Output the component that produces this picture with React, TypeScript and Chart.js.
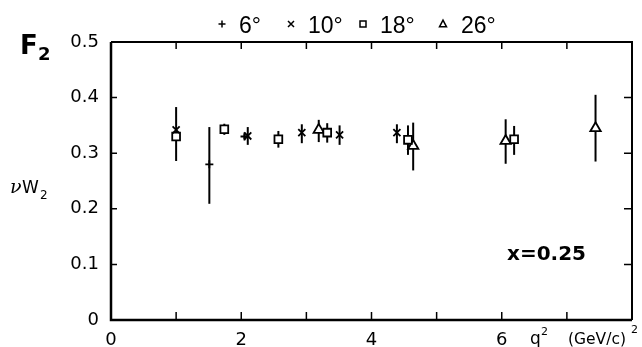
import React, { useEffect, useRef } from "react";
import { Chart, registerables } from "chart.js";

Chart.register(...registerables);

// 6 degrees (+)
const q2_6 = [1.51, 2.05];
const val_6 = [0.28, 0.33];
const lo_6 = [0.209, 0.325];
const hi_6 = [0.347, 0.335];
// 10 degrees (x)
const q2_10 = [1.0, 2.1, 2.93, 3.51, 4.39];
const val_10 = [0.342, 0.331, 0.337, 0.333, 0.337];
const lo_10 = [0.34, 0.315, 0.318, 0.315, 0.318];
const hi_10 = [0.345, 0.347, 0.352, 0.35, 0.352];
// 18 degrees (square)
const q2_18 = [1.0, 1.74, 2.57, 3.32, 4.56, 6.19];
const val_18 = [0.33, 0.343, 0.325, 0.337, 0.324, 0.325];
const lo_18 = [0.286, 0.333, 0.31, 0.319, 0.297, 0.297];
const hi_18 = [0.383, 0.353, 0.34, 0.354, 0.35, 0.349];
// 26 degrees (triangle)
const q2_26 = [3.19, 4.64, 6.06, 7.44];
const val_26 = [0.342, 0.313, 0.322, 0.345];
const lo_26 = [0.32, 0.269, 0.281, 0.285];
const hi_26 = [0.36, 0.355, 0.361, 0.405];

const legendLabels = ["6°", "10°", "18°", "26°"];
const xTickLabels = ["0", "", "2", "", "4", "", "6", "", ""];
const yTickLabels = ["0", "0.1", "0.2", "0.3", "0.4", "0.5"];
const annotation = "x=0.25";

const FONT = "'DejaVu Sans', sans-serif";
const LFONT = "'Liberation Sans', sans-serif";

function mk(xs: number[], ys: number[], lo: number[], hi: number[]) {
  return xs.map((x, i) => ({ x, y: ys[i], lo: lo[i], hi: hi[i] }));
}

function drawSymbol(ctx: CanvasRenderingContext2D, style: string, r: number, x: number, y: number) {
  ctx.beginPath();
  if (style === "cross") {
    ctx.moveTo(x - r, y); ctx.lineTo(x + r, y);
    ctx.moveTo(x, y - r); ctx.lineTo(x, y + r);
    ctx.stroke();
  } else if (style === "crossRot") {
    ctx.moveTo(x - r, y - r); ctx.lineTo(x + r, y + r);
    ctx.moveTo(x - r, y + r); ctx.lineTo(x + r, y - r);
    ctx.stroke();
  } else if (style === "rect") {
    ctx.rect(x - r, y - r, 2 * r, 2 * r);
    ctx.fill(); ctx.stroke();
  } else {
    ctx.moveTo(x, y - r * 1.1);
    ctx.lineTo(x + r, y + r * 0.8);
    ctx.lineTo(x - r, y + r * 0.8);
    ctx.closePath();
    ctx.fill(); ctx.stroke();
  }
}

const errorBarPlugin = {
  id: "errbars",
  beforeDatasetsDraw(chart: any) {
    const { ctx, scales } = chart;
    const xs = scales.x, ys = scales.y;
    ctx.save();
    ctx.strokeStyle = "#000";
    ctx.lineWidth = 2;
    chart.data.datasets.forEach((ds: any) => {
      ds.data.forEach((p: any) => {
        const px = xs.getPixelForValue(p.x);
        ctx.beginPath();
        ctx.moveTo(px, ys.getPixelForValue(p.lo));
        ctx.lineTo(px, ys.getPixelForValue(p.hi));
        ctx.stroke();
      });
    });
    ctx.restore();
  },
};

const framePlugin = {
  id: "frame",
  afterDraw(chart: any) {
    const { ctx, chartArea: a, scales } = chart;
    const xs = scales.x, ys = scales.y;
    ctx.save();
    ctx.strokeStyle = "#000";
    ctx.lineWidth = 2.5;
    ctx.beginPath();
    ctx.moveTo(a.left, a.top);
    ctx.lineTo(a.left, a.bottom);
    ctx.lineTo(a.right, a.bottom);
    ctx.stroke();
    ctx.lineWidth = 2;
    ctx.beginPath();
    ctx.moveTo(a.left, a.top);
    ctx.lineTo(a.right, a.top);
    ctx.lineTo(a.right, a.bottom);
    ctx.stroke();
    ctx.lineWidth = 1.5;
    for (let v = 1; v <= 7; v++) {
      const px = xs.getPixelForValue(v);
      ctx.beginPath();
      ctx.moveTo(px, a.bottom);
      ctx.lineTo(px, a.bottom - 8);
      ctx.moveTo(px, a.top);
      ctx.lineTo(px, a.top + 7);
      ctx.stroke();
    }
    for (let i = 1; i <= 4; i++) {
      const py = ys.getPixelForValue(i / 10);
      ctx.beginPath();
      ctx.moveTo(a.left, py);
      ctx.lineTo(a.left + 6, py);
      ctx.moveTo(a.right, py);
      ctx.lineTo(a.right - 8, py);
      ctx.stroke();
    }
    ctx.fillStyle = "#000";
    ctx.textBaseline = "alphabetic";
    ctx.textAlign = "left";
    ctx.font = `bold 26px ${FONT}`;
    ctx.fillText("F", 20, 54);
    ctx.font = `bold 18px ${FONT}`;
    ctx.fillText("2", 38, 60);
    ctx.font = `italic 19px 'DejaVu Serif', serif`;
    ctx.fillText("ν", 10, 193);
    ctx.font = `17px ${FONT}`;
    ctx.fillText("W", 22, 193);
    ctx.font = `12px ${FONT}`;
    ctx.fillText("2", 40, 199);
    ctx.font = `17px ${FONT}`;
    ctx.fillText("q", 530, 344);
    ctx.font = `11px ${FONT}`;
    ctx.fillText("2", 541, 335);
    ctx.font = `15.5px ${FONT}`;
    ctx.fillText("(GeV/c)", 568, 344);
    ctx.font = `11px ${FONT}`;
    ctx.fillText("2", 631, 333);
    ctx.font = `bold 20px ${FONT}`;
    ctx.fillText(annotation, 507, 260);
    const items = [
      { style: "cross", r: 3.5, x: 222, tx: 239 },
      { style: "crossRot", r: 3, x: 291, tx: 308 },
      { style: "rect", r: 3, x: 363, tx: 380 },
      { style: "triangle", r: 3.5, x: 443, tx: 461 },
    ];
    items.forEach((it, i) => {
      ctx.lineWidth = 1.5;
      ctx.fillStyle = "#fff";
      drawSymbol(ctx, it.style, it.r, it.x, 24);
      ctx.fillStyle = "#000";
      ctx.font = `23px ${LFONT}`;
      ctx.fillText(legendLabels[i], it.tx, 33);
    });
    ctx.restore();
  },
};

export default function App() {
  const ref = useRef<HTMLCanvasElement>(null);
  useEffect(() => {
    document.body.style.margin = "0";
    const ptBase = { borderColor: "#000", backgroundColor: "#fff", showLine: false };
    const chart = new Chart(ref.current!, {
      type: "scatter",
      data: {
        datasets: [
          { label: "6°", data: mk(q2_6, val_6, lo_6, hi_6), pointStyle: "cross", pointRadius: 4, pointBorderWidth: 1.8, ...ptBase },
          { label: "10°", data: mk(q2_10, val_10, lo_10, hi_10), pointStyle: "crossRot", pointRadius: 5, pointBorderWidth: 1.8, ...ptBase },
          { label: "18°", data: mk(q2_18, val_18, lo_18, hi_18), pointStyle: "rect", pointRadius: 5.5, pointBorderWidth: 1.8, ...ptBase },
          { label: "26°", data: mk(q2_26, val_26, lo_26, hi_26), pointStyle: "triangle", pointRadius: 6, pointBorderWidth: 1.8, ...ptBase },
        ] as any,
      },
      options: {
        animation: false,
        responsive: false,
        layout: { padding: { top: 42, right: 6, left: 0, bottom: 0 } },
        plugins: { legend: { display: false }, tooltip: { enabled: false } },
        scales: {
          x: {
            type: "linear",
            min: 0,
            max: 8,
            grid: { display: false, drawTicks: false },
            border: { display: false },
            afterFit: (s: any) => { s.height = 27; },
            afterBuildTicks: (s: any) => { s.ticks = xTickLabels.map((_, i) => ({ value: i })); },
            ticks: {
              autoSkip: false,
              padding: 10,
              color: "#000",
              font: { family: FONT, size: 18 },
              callback: (v: any) => xTickLabels[Math.round(v)] ?? "",
            },
          },
          y: {
            type: "linear",
            min: 0,
            max: 0.5,
            grid: { display: false, drawTicks: false },
            border: { display: false },
            afterFit: (s: any) => { s.width = 111; },
            afterBuildTicks: (s: any) => { s.ticks = yTickLabels.map((_, i) => ({ value: i / 10 })); },
            ticks: {
              autoSkip: false,
              padding: 12,
              color: "#000",
              font: { family: FONT, size: 18 },
              callback: (v: any) => yTickLabels[Math.round(v * 10)] ?? "",
            },
          },
        },
      },
      plugins: [errorBarPlugin, framePlugin],
    } as any);
    return () => chart.destroy();
  }, []);
  return <canvas ref={ref} width={642} height={347} style={{ display: "block" }} />;
}
